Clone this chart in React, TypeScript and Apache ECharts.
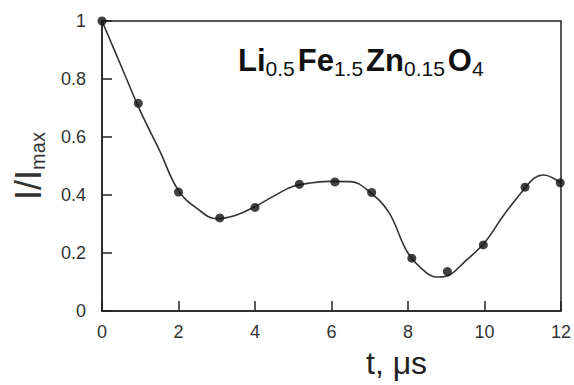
import React, { useEffect, useRef } from "react";
import * as echarts from "echarts";

// Measured data points (t in μs, |I/Imax|)
const pointT = [0, 0.95, 2.0, 3.08, 4.0, 5.16, 6.09, 7.05, 8.1, 9.03, 9.97, 11.06, 11.98];
const pointV = [1.0, 0.716, 0.41, 0.321, 0.357, 0.437, 0.445, 0.409, 0.182, 0.136, 0.228, 0.427, 0.442];

// Fitted curve
const curveT = [0, 0.5, 1, 1.5, 2, 2.5, 3, 3.5, 4, 4.5, 5, 5.5, 6, 6.5, 7, 7.5, 8, 8.5, 8.8, 9.1, 9.5, 10, 10.5, 11, 11.3, 11.55, 11.8, 12];
const curveV = [1.0, 0.845, 0.69, 0.555, 0.415, 0.352, 0.318, 0.33, 0.36, 0.397, 0.43, 0.442, 0.447, 0.446, 0.41, 0.34, 0.2, 0.13, 0.117, 0.125, 0.172, 0.235, 0.33, 0.415, 0.458, 0.469, 0.458, 0.44];

const xTicks = { min: 0, max: 12, interval: 2 };
const yTicks = { min: 0, max: 1, interval: 0.2 };

const titleText = "{m|Li}{s|0.5}{m|Fe}{s|1.5}{m|Zn}{s|0.15}{m|O}{s|4}";
const yName = "{a|I/I}{b|max}";
const xName = "t, μs";

export default function App() {
  const ref = useRef<HTMLDivElement>(null);
  useEffect(() => {
    if (!ref.current) return;
    const chart = echarts.init(ref.current, null, { renderer: "svg" });
    const font = "'Liberation Sans', Arial, sans-serif";
    const axisColor = "#222";
    chart.setOption({
      animation: false,
      backgroundColor: "#fff",
      textStyle: { fontFamily: font },
      grid: {
        left: 102,
        right: 13,
        top: 21,
        bottom: 74,
        show: true,
        borderColor: axisColor,
        borderWidth: 1.5,
      },
      xAxis: {
        type: "value",
        min: xTicks.min,
        max: xTicks.max,
        interval: xTicks.interval,
        axisLine: { show: true, lineStyle: { color: axisColor, width: 1.5 } },
        axisTick: { show: true, inside: true, length: 10, lineStyle: { color: axisColor, width: 1.5 } },
        axisLabel: { color: "#333", fontSize: 18, margin: 12, lineHeight: 18, fontFamily: font },
        splitLine: { show: false },
      },
      yAxis: {
        type: "value",
        min: yTicks.min,
        max: yTicks.max,
        interval: yTicks.interval,
        name: yName,
        nameLocation: "middle",
        nameRotate: 90,
        nameGap: 56,
        nameTextStyle: {
          rich: {
            a: { fontSize: 36, lineHeight: 36, verticalAlign: "top", color: "#333", fontFamily: font },
            b: { fontSize: 20, lineHeight: 20, verticalAlign: "top", padding: [18, 0, 0, 0], color: "#333", fontFamily: font },
          },
        },
        axisLine: { show: true, lineStyle: { color: axisColor, width: 1.5 } },
        axisTick: { show: true, inside: true, length: 10, lineStyle: { color: axisColor, width: 1.5 } },
        axisLabel: { color: "#333", fontSize: 18, margin: 16, fontFamily: font },
        splitLine: { show: false },
      },
      graphic: [
        {
          type: "text",
          left: 238,
          top: 45,
          style: {
            text: titleText,
            rich: {
              m: { fontSize: 31, lineHeight: 31, fontWeight: "bold", verticalAlign: "top", fill: "#111", fontFamily: font },
              s: { fontSize: 21, lineHeight: 21, verticalAlign: "top", padding: [13, 3, 0, 0], fill: "#111", fontFamily: font },
            },
          },
        },
        {
          type: "text",
          left: 366,
          top: 347,
          style: { text: xName, fontSize: 32, lineHeight: 32, fill: "#222", fontFamily: font },
        },
      ],
      series: [
        {
          type: "line",
          data: curveT.map((t, i) => [t, curveV[i]]),
          smooth: 0.4,
          showSymbol: false,
          symbol: "none",
          lineStyle: { color: "#333", width: 1.6 },
          z: 2,
        },
        {
          type: "scatter",
          data: pointT.map((t, i) => [t, pointV[i]]),
          symbol: "circle",
          symbolSize: 9,
          itemStyle: { color: "#111" },
          z: 3,
        },
      ],
    });
    return () => chart.dispose();
  }, []);
  return (
    <div
      ref={ref}
      style={{ position: "absolute", left: 0, top: 0, width: 574, height: 385 }}
    />
  );
}
